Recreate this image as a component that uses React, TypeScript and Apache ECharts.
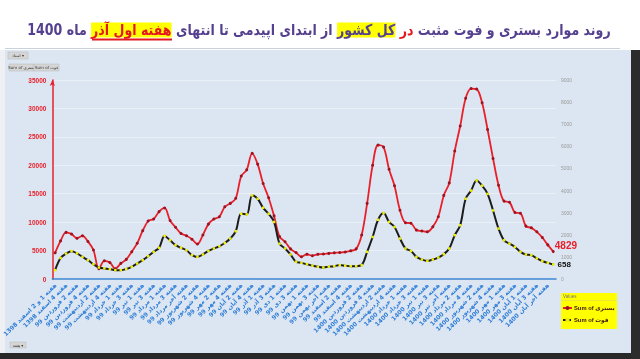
import React, { useEffect, useRef } from 'react';
import * as echarts from 'echarts';

// month, year, weeks (logical order of the pivot table rows)
const MONTH_WEEKS: [string, string, string[]][] = [
  ['اسفند', '1398', ['1 و 2', '3', '4']],
  ['فروردین', '99', ['1', '2', '3', '4']],
  ['اردیبهشت', '99', ['1', '2', '3', '4', 'آخر']],
  ['خرداد', '99', ['1', '2', '3', '4']],
  ['تیر', '99', ['1', '2', '3', '4']],
  ['مرداد', '99', ['1', '2', '3', '4', 'آخر']],
  ['شهریور', '99', ['1', '2', '3', '4']],
  ['مهر', '99', ['1', '2', '3', '4']],
  ['آبان', '99', ['1', '2', '3', '4', 'آخر']],
  ['آذر', '99', ['1', '2', '3', '4']],
  ['دی', '99', ['1', '2', '3', '4']],
  ['بهمن', '99', ['1', '2', '3', '4', 'آخر']],
  ['اسفند', '99', ['1', '2', '3', '4']],
  ['فروردین', '1400', ['1', '2', '3', '4']],
  ['اردیبهشت', '1400', ['1', '2', '3', '4', 'آخر']],
  ['خرداد', '1400', ['1', '2', '3', '4']],
  ['تیر', '1400', ['1', '2', '3', '4', 'آخر']],
  ['مرداد', '1400', ['1', '2', '3', '4']],
  ['شهریور', '1400', ['1', '2', '3', '4', 'آخر']],
  ['مهر', '1400', ['1', '2', '3', '4']],
  ['آبان', '1400', ['1', '2', '3', '4', 'آخر']],
  ['آذر', '1400', ['1']],
];

// Sum of بستری (hospitalised), left axis
const HOSPITALISED = [
  4600, 6700, 8200, 7900, 7150, 7600, 6600, 5100, 1800, 3200,
  2900, 1800, 2750, 3450, 4800, 6300, 8500, 10200, 10550, 11850,
  12500, 10300, 9100, 8000, 7600, 7000, 6150, 7750, 9650, 10550,
  10950, 12700, 13300, 14200, 18100, 19200, 22100, 20200, 16800, 14300,
  11100, 7450, 6550, 5300, 4650, 3900, 4350, 4100, 4350, 4400,
  4500, 4600, 4650, 4750, 4950, 5300, 7750, 13300, 20000, 23550,
  23200, 19300, 16400, 12100, 9900, 9800, 8600, 8450, 8300, 9200,
  10950, 14700, 16900, 22500, 26900, 31800, 33500, 33400, 31000, 26300,
  21200, 16500, 13700, 13500, 11700, 11550, 9300, 9000, 8300, 7300,
  6000, 4829,
];

// Sum of فوت (deaths), right axis
const DEATHS = [
  400, 950, 1150, 1260, 1160, 1000, 850, 670, 520, 480,
  450, 400, 400, 450, 550, 700, 850, 1030, 1230, 1410,
  1950, 1750, 1530, 1410, 1300, 1080, 1000, 1110, 1270, 1380,
  1480, 1630, 1830, 2160, 2950, 2920, 3780, 3630, 3220, 2950,
  2580, 1600, 1380, 1110, 780, 730, 670, 600, 550, 520,
  560, 580, 630, 600, 580, 580, 630, 1230, 1900, 2680,
  2980, 2580, 2350, 1830, 1380, 1270, 1000, 880, 820, 880,
  970, 1120, 1380, 1980, 2430, 3630, 4000, 4450, 4220, 3850,
  3100, 2280, 1750, 1600, 1450, 1230, 1110, 1080, 930, 810,
  730, 658,
];

const SERIES_NAMES = ['Sum of بستری', 'Sum of فوت'];
const LEFT_AXIS = { min: 0, max: 35000, interval: 5000 };
const RIGHT_AXIS = { min: 0, max: 9000, interval: 1000 };

const FA = "'DejaVu Sans', 'Noto Sans', sans-serif";
const MIX = "'Liberation Sans', 'DejaVu Sans', sans-serif";
const NUM = "'Liberation Sans', Arial, sans-serif";

export default function App() {
  const ref = useRef<HTMLDivElement>(null);

  useEffect(() => {
    if (!ref.current) return;
    const chart = echarts.init(ref.current, undefined, { renderer: 'svg' });

    const categories: string[] = [];
    MONTH_WEEKS.forEach(([m, y, ws]) => ws.forEach((w) => categories.push(`هفته ${w} ${m} ${y}`)));

    const lastLabel = (color: string, size: number, offset: number[]) => ({
      show: true,
      position: 'right',
      formatter: '{c}',
      color,
      fontSize: size,
      fontWeight: 'bold',
      fontFamily: NUM,
      offset,
    });

    const hospData = HOSPITALISED.map((v, i) =>
      i === HOSPITALISED.length - 1 ? { value: v, label: lastLabel('#e8202a', 10, [-5, -6]) } : v
    );
    const deathData = DEATHS.map((v, i) =>
      i === DEATHS.length - 1 ? { value: v, label: lastLabel('#111111', 8, [-2, 0]) } : v
    );

    const button = (x: number, y: number, w: number, h: number, text: string) => ({
      type: 'group',
      x,
      y,
      z: 50,
      children: [
        { type: 'rect', shape: { x: 0, y: 0, width: w, height: h }, style: { fill: '#d6d6d6', stroke: '#b4b4b4', lineWidth: 0.5 } },
        { type: 'text', x: w / 2, y: h / 2, style: { text, fontSize: 4, fill: '#333', align: 'center', verticalAlign: 'middle', fontFamily: FA } },
      ],
    });

    const tok = (fill: string, bg?: string) => ({
      fontSize: 15,
      fontWeight: 'bold',
      fill,
      fontFamily: FA,
      ...(bg ? { backgroundColor: bg } : {}),
    });

    chart.setOption({
      animation: false,
      graphic: [
        { type: 'rect', z: -100, shape: { x: 0, y: 0, width: 640, height: 359 }, style: { fill: '#ffffff' } },
        { type: 'rect', z: -99, shape: { x: 0, y: 50, width: 640, height: 309 }, style: { fill: '#eef0f3' } },
        { type: 'rect', z: -98, shape: { x: 5, y: 50, width: 626, height: 303 }, style: { fill: '#dce6f2' } },
        { type: 'rect', z: -97, shape: { x: 0, y: 353, width: 640, height: 6 }, style: { fill: '#282828' } },
        { type: 'rect', z: -97, shape: { x: 631, y: 50, width: 9, height: 309 }, style: { fill: '#2c2c2c' } },
        { type: 'line', z: -97, shape: { x1: 5, y1: 48.5, x2: 620, y2: 48.5 }, style: { stroke: '#c9d1dc', lineWidth: 1 } },
        {
          type: 'text',
          z: 20,
          x: 319,
          y: 30,
          scaleX: 0.84,
          scaleY: 1,
          style: {
            text:
              '{p|ماه 1400}{s| }{h|هفته اول آذر}{s| }{p|از ابتدای اپیدمی تا انتهای}{s| }{y|کل کشور}{s| }{r|در}{s| }{p|روند موارد بستری و فوت مثبت}',
            align: 'center',
            verticalAlign: 'middle',
            rich: {
              p: tok('#55408f'),
              s: tok('#55408f'),
              r: tok('#e4161e'),
              y: tok('#55408f', '#ffff00'),
              h: tok('#e4161e', '#ffff00'),
            },
          },
        },
        { type: 'line', z: 21, shape: { x1: 92, y1: 39.5, x2: 172, y2: 39.5 }, style: { stroke: '#e4161e', lineWidth: 2 } },
        button(8, 52, 20, 7, 'اسناد ▾'),
        button(9, 64, 25, 7, 'Sum of بستری'),
        button(34, 64, 25, 7, 'Sum of فوت'),
        button(10, 342, 16, 6, 'هفته ▾'),
        { type: 'rect', z: 1, shape: { x: 561, y: 293, width: 56, height: 36 }, style: { fill: '#ffff00' } },
        { type: 'text', z: 2, x: 563, y: 294, style: { text: 'Values', fontSize: 4.5, fill: '#777777', fontFamily: NUM } },
        { type: 'line', z: 2, shape: { x1: 561, y1: 300.5, x2: 617, y2: 300.5 }, style: { stroke: '#d8d860', lineWidth: 0.5 } },
      ],
      legend: {
        data: [
          { name: SERIES_NAMES[0] },
          { name: SERIES_NAMES[1], lineStyle: { type: 'dashed' } },
        ],
        orient: 'vertical',
        left: 562,
        top: 305,
        padding: 0,
        itemWidth: 9,
        itemHeight: 5,
        itemGap: 6,
        textStyle: { fontSize: 5.8, fontWeight: 'bold', color: '#3a1414', fontFamily: MIX, padding: [0, 0, 0, -3] },
        z: 10,
      },
      grid: { left: 47, right: 84, top: 80, bottom: 80 },
      xAxis: {
        type: 'category',
        data: categories,
        boundaryGap: true,
        axisLine: { show: true, lineStyle: { color: '#3d85d1', width: 1.5 } },
        axisTick: { show: false },
        axisLabel: {
          interval: 1,
          rotate: 45,
          color: '#2f7ed8',
          fontSize: 6,
          fontWeight: 'bold',
          fontFamily: FA,
          margin: 5,
        },
        splitLine: { show: false },
      },
      yAxis: [
        {
          type: 'value',
          position: 'left',
          ...LEFT_AXIS,
          axisLine: { show: true, lineStyle: { color: '#e8202a', width: 1.5 }, symbol: ['none', 'arrow'], symbolSize: [4, 6] },
          axisTick: { show: false },
          axisLabel: { color: '#e8202a', fontSize: 6.5, fontWeight: 'bold', fontFamily: NUM, margin: 6, formatter: (v: number) => String(v) },
          splitLine: { show: true, lineStyle: { color: '#eaf0f8', width: 1 } },
        },
        {
          type: 'value',
          position: 'right',
          ...RIGHT_AXIS,
          axisLine: { show: false },
          axisTick: { show: false },
          axisLabel: { color: '#9a9a9a', fontSize: 5, fontFamily: NUM, margin: 5, formatter: (v: number) => String(v) },
          splitLine: { show: false },
        },
      ],
      series: [
        {
          name: SERIES_NAMES[0],
          type: 'line',
          yAxisIndex: 0,
          data: hospData,
          smooth: 0.35,
          showAllSymbol: true,
          symbol: 'circle',
          symbolSize: 3,
          lineStyle: { color: '#e8202a', width: 1.8 },
          itemStyle: { color: '#9c1422' },
          z: 3,
        },
        {
          name: SERIES_NAMES[1],
          type: 'line',
          yAxisIndex: 1,
          data: deathData,
          smooth: 0.35,
          showAllSymbol: true,
          symbol: 'rect',
          symbolSize: 2.5,
          lineStyle: { color: '#1c1c1c', width: 2 },
          itemStyle: { color: '#eeee00' },
          z: 4,
        },
      ],
    });

    return () => chart.dispose();
  }, []);

  return (
    <div
      ref={ref}
      style={{ position: 'fixed', left: 0, top: 0, width: 640, height: 359 }}
    />
  );
}
